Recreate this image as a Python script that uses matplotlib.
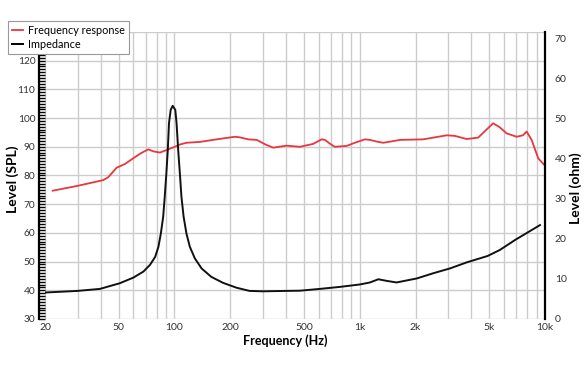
import matplotlib
matplotlib.use("Agg")
import matplotlib.pyplot as plt
from matplotlib.ticker import FixedLocator, MultipleLocator, NullFormatter, NullLocator
from matplotlib.lines import Line2D

plt.rcParams['font.family'] = ['Lato', 'DejaVu Sans']

# Frequency response (dB SPL)
fr_freq = [22, 30, 41.3, 43.9, 48.7, 54, 59.9, 66, 72.2, 77, 83.5, 90, 98.5, 107, 116, 137, 169, 212,
           225, 250, 278, 310, 341, 403, 475, 560, 623, 649, 700, 734, 849, 950, 1067, 1135, 1240, 1340,
           1649, 2204, 2945, 3266, 3776, 4357, 4800, 5250, 5700, 6200, 7030, 7600, 7960, 8470, 9190, 10000]
fr_db = [74.7, 76.4, 78.4, 79.4, 82.7, 84.0, 86.0, 87.8, 89.1, 88.4, 88.0, 88.8, 89.8, 90.8, 91.4, 91.7, 92.6, 93.5,
         93.3, 92.6, 92.4, 90.8, 89.7, 90.4, 90.0, 91.0, 92.6, 92.4, 90.8, 90.0, 90.3, 91.5, 92.6, 92.4, 91.8, 91.4,
         92.4, 92.6, 94.0, 93.8, 92.7, 93.2, 95.8, 98.2, 96.8, 94.7, 93.5, 94.0, 95.3, 92.4, 86.0, 83.4]

# Impedance (ohm)
imp_freq = [20, 30, 39.6, 50.6, 59.9, 67.9, 73.8, 78.7, 81.9, 84.4, 86.9, 88.6, 90.4, 92.0, 93.4, 95.4,
            97.8, 101, 102.6, 104.7, 106.9, 109, 112, 116, 121, 128.8, 140, 158, 183, 216, 254, 300,
            400, 475, 610, 782, 1000, 1135, 1260, 1397, 1580, 2030, 2494, 3070, 3776, 4900, 5707,
            6900, 9400]
imp_ohm = [6.6, 7.0, 7.5, 8.9, 10.3, 11.8, 13.5, 15.5, 18.0, 21.3, 25.5, 30.5, 36.3, 42.1, 48.8, 52.1,
           53.1, 52.1, 48.8, 42.1, 36.3, 30.5, 25.5, 21.3, 18.0, 15.1, 12.6, 10.5, 9.0, 7.8, 7.0, 6.9,
           7.0, 7.05, 7.5, 8.0, 8.6, 9.1, 9.9, 9.5, 9.1, 10.1, 11.4, 12.6, 14.1, 15.7, 17.2,
           19.7, 23.4]

x_ticks = [20, 50, 100, 200, 500, 1000, 2000, 5000, 10000]
x_ticklabels = ['20', '50', '100', '200', '500', '1k', '2k', '5k', '10k']
spl_ticks = list(range(30, 121, 10))
ohm_ticks = list(range(0, 71, 10))

W, H = 588, 372
fig = plt.figure(figsize=(W / 100, H / 100), dpi=100)
ax = fig.add_axes([45 / W, (H - 319) / H, 500 / W, 287 / H])
ax2 = ax.twinx()

grid_c = '#cccccc'
red = '#e8363f'
tick_c = '#333333'

ax.set_xscale('log')
ax.set_xlim(20, 10000)
ax.set_ylim(30, 130)
ax2.set_ylim(0, 71.5)

# grid
minor_x = []
for dec in [10, 100, 1000]:
    for m in range(1, 10):
        v = dec * m
        if 20 <= v <= 10000:
            minor_x.append(v)
for v in minor_x:
    ax.axvline(v, color=grid_c, lw=1.0, zorder=0)
for v in range(30, 131, 10):
    ax.axhline(v, color=grid_c, lw=1.0, zorder=0)

ax.plot(fr_freq, fr_db, color=red, lw=1.3, zorder=3, solid_joinstyle='round')
ax2.plot(imp_freq, imp_ohm, color='#111111', lw=1.4, zorder=3, solid_joinstyle='round')

# ticks
ax.xaxis.set_major_locator(FixedLocator(x_ticks))
ax.set_xticklabels(x_ticklabels)
ax.xaxis.set_minor_locator(NullLocator())
ax.xaxis.set_minor_formatter(NullFormatter())
ax.tick_params(axis='x', length=0, pad=3, labelsize=7.5, labelcolor=tick_c)

ax.set_yticks(spl_ticks)
ax.yaxis.set_minor_locator(MultipleLocator(1))
ax.tick_params(axis='y', which='major', direction='in', length=4, width=1.0, color='black',
               labelsize=7.3, labelcolor=tick_c, pad=3)
ax.tick_params(axis='y', which='minor', direction='in', length=4, width=1.0, color='black')

ax2.set_yticks(ohm_ticks)
ax2.tick_params(axis='y', length=0, pad=7, labelsize=7.5, labelcolor=tick_c)

for a in (ax, ax2):
    a.spines['top'].set_visible(False)
    a.spines['bottom'].set_visible(False)
ax.spines['right'].set_visible(False)
ax2.spines['left'].set_visible(False)
ax.spines['left'].set_position(('outward', 4))
ax.spines['left'].set_linewidth(1.6)
ax2.spines['right'].set_linewidth(1.6)

xl = ax.set_xlabel('Frequency (Hz)', fontsize=9, fontweight='bold')
ax.xaxis.set_label_coords(0.48, -0.0756)
xl.set_va('center')
yl = ax.set_ylabel('Level (SPL)', fontsize=10, fontweight='bold')
ax.yaxis.set_label_coords((13 - 45) / 500, (319 - 179) / 287)
yl.set_va('center')
yr = ax2.set_ylabel('Level (ohm)', fontsize=10, fontweight='bold')
ax2.yaxis.set_label_coords((576 - 45) / 500, (319 - 188) / 287)
yr.set_va('center')

handles = [Line2D([], [], color=red, lw=1.3), Line2D([], [], color='black', lw=1.4)]
leg = fig.legend(handles, ['Frequency response', 'Impedance'], loc='upper left',
                 bbox_to_anchor=(8 / W, 1 - 20.5 / H), fontsize=7.8, frameon=True, fancybox=False,
                 edgecolor='#999999', handlelength=1.0, handletextpad=0.45, borderpad=0.4,
                 labelspacing=0.3, borderaxespad=0, framealpha=1)
leg.get_frame().set_linewidth(0.8)

fig.savefig('out.png', dpi=100)
